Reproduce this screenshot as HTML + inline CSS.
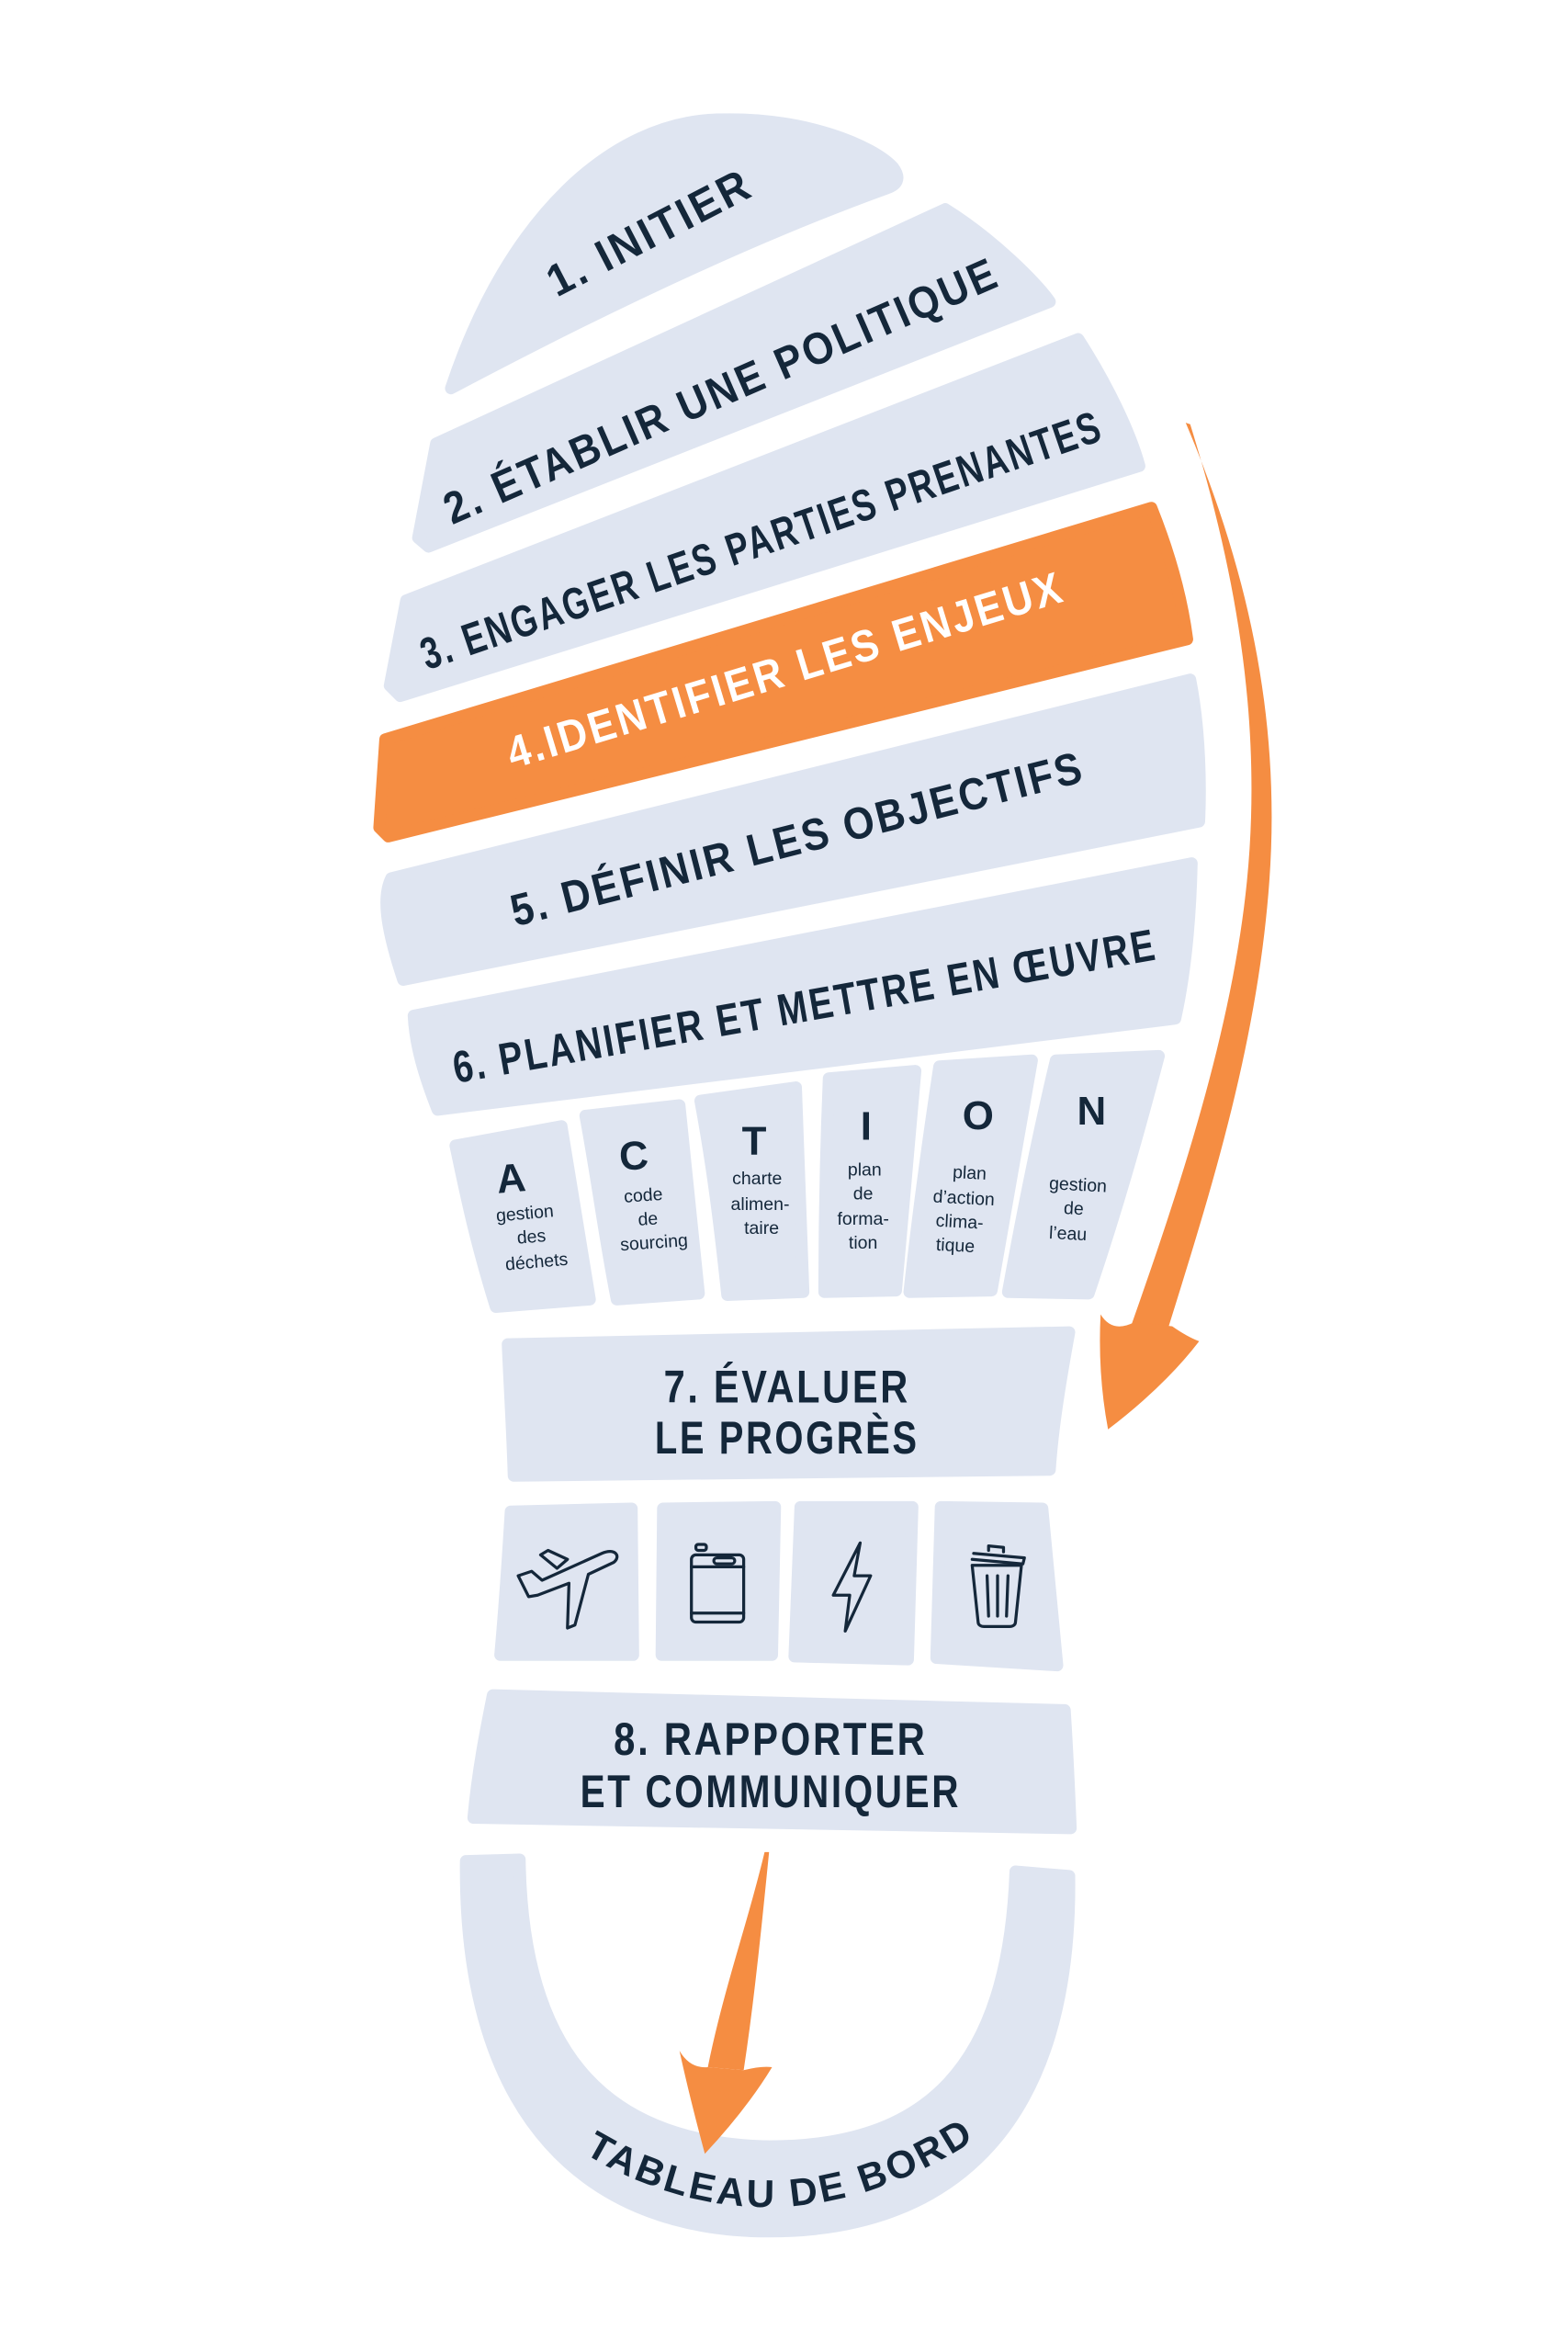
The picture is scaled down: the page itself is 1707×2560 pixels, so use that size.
<!DOCTYPE html>
<html><head><meta charset="utf-8"><style>
html,body{margin:0;padding:0;background:#fff;}
svg{display:block;}
.h{font-family:"Liberation Sans Narrow","Liberation Sans",sans-serif;font-weight:bold;fill:#14273a;letter-spacing:2px;}
.s{font-family:"Liberation Sans",sans-serif;fill:#14273a;font-size:12px;text-anchor:middle;}
.L{font-family:"Liberation Sans Narrow","Liberation Sans",sans-serif;font-weight:bold;fill:#14273a;font-size:27px;text-anchor:middle;}
.ic{fill:none;stroke:#14273a;stroke-width:2;stroke-linejoin:round;stroke-linecap:round;}
</style></head><body>
<svg width="1707" height="2560" viewBox="0 0 1050 1574.7" xmlns="http://www.w3.org/2000/svg">
<g fill="#dfe5f1" stroke="#dfe5f1" stroke-width="8" stroke-linejoin="round">
<path d="M302,260 C340,145 410,82 480,80 C540,78 585,98 598,112 C604,120 600,124 594,126 C500,160 400,208 302,260 Z"/>
<path d="M292,297 L633,140 C665,160 695,190 703,202 L287,366 L280,360 Z"/>
<path d="M272,402 L722,227 C742,258 757,290 763,312 L268,466 L261,459 Z"/>
<path d="M262,588 L797,455 C804,490 804,530 803,550 L270,656 C258,620 256,600 262,588 Z"/>
<path d="M277,680 L798,578 C797,620 793,655 787,682 L293,743 C284,720 278,700 277,680 Z"/>
<path d="M305,767 L376,754 L395,870 L332,875 C318,830 312,800 305,767 Z"/>
<path d="M392,747 L455,740 L468,866 L413,870 C405,830 400,790 392,747 Z"/>
<path d="M469,737 L533,728 L538,865 L487,867 C482,820 477,780 469,737 Z"/>
<path d="M555,722 L613,717 L600,864 L552,865 C552,820 553,770 555,722 Z"/>
<path d="M629,714 L691,710 L664,864 L609,865 C615,810 622,760 629,714 Z"/>
<path d="M707,710 L776,707 C762,760 748,810 729,866 L675,865 C685,810 695,760 707,710 Z"/>
<path d="M340,900 L716,892 C710,925 705,955 703,984 L344,988 C343,955 341,925 340,900 Z"/>
<path d="M342,1012 L423,1010 L424,1108 L335,1108 C338,1075 340,1045 342,1012 Z"/>
<path d="M444,1010 L519,1009 L517,1108 L443,1108 Z"/>
<path d="M536,1009 L611,1009 L608,1111 L532,1109 Z"/>
<path d="M630,1009 L698,1010 C702,1050 705,1085 708,1115 L627,1110 Z"/>
<path d="M330,1135 L713,1145 C715,1175 716,1200 717,1224 L317,1217 C320,1185 325,1160 330,1135 Z"/>
<path d="M312,1246 L348,1245 C350,1380 410,1435 515,1437 C620,1437 675,1385 680,1253 L716,1256 C718,1420 640,1494 515,1494 C395,1494 310,1420 312,1246 Z"/>
</g>
<path d="M258,495 L771,340 C785,375 792,405 795,428 L260,560 L254,554 Z" fill="#f58d42" stroke="#f58d42" stroke-width="8" stroke-linejoin="round"/>
<!-- orange arrows -->
<path d="M794,283 C835,380 858,480 850,590 C842,700 810,800 782,890 L758,886 C790,795 825,690 835,590 C845,490 830,390 797,284 Z" fill="#f58d42"/>
<path d="M737,880 Q745,893 760,885 L785,888 Q795,895 803,898 Q780,928 742,957 Q735,920 737,880 Z" fill="#f58d42"/>
<path d="M512,1240 L515,1240 C510,1290 505,1340 498,1386 L474,1384 C485,1330 500,1290 512,1240 Z" fill="#f58d42"/>
<path d="M455,1373 Q462,1385 474,1384 L498,1386 Q510,1383 517,1384 Q500,1412 472,1442 Q462,1405 455,1373 Z" fill="#f58d42"/>
<!-- headings -->
<text class="h" font-size="30" dominant-baseline="central" text-anchor="middle" transform="translate(435,156) rotate(-27.4)" textLength="150" lengthAdjust="spacingAndGlyphs">1. INITIER</text>
<text class="h" font-size="30" dominant-baseline="central" text-anchor="middle" transform="translate(483,262) rotate(-23.6)" textLength="402" lengthAdjust="spacingAndGlyphs">2. ÉTABLIR UNE POLITIQUE</text>
<text class="h" font-size="30" dominant-baseline="central" text-anchor="middle" transform="translate(510,362) rotate(-18.8)" textLength="480" lengthAdjust="spacingAndGlyphs">3. ENGAGER LES PARTIES PRENANTES</text>
<text class="h" font-size="30" dominant-baseline="central" text-anchor="middle" transform="translate(526,449) rotate(-16.9)" textLength="388" lengthAdjust="spacingAndGlyphs" style="fill:#fff">4.IDENTIFIER LES ENJEUX</text>
<text class="h" font-size="30" dominant-baseline="central" text-anchor="middle" transform="translate(534,562) rotate(-14.3)" textLength="395" lengthAdjust="spacingAndGlyphs">5. DÉFINIR LES OBJECTIFS</text>
<text class="h" font-size="30" dominant-baseline="central" text-anchor="middle" transform="translate(539,674) rotate(-10)" textLength="478" lengthAdjust="spacingAndGlyphs">6. PLANIFIER ET METTRE EN ŒUVRE</text>
<!-- ACTION -->
<text class="L" x="343" y="798" transform="rotate(-5 343 798)">A</text>
<text class="L" x="425" y="783" transform="rotate(-4 425 783)">C</text>
<text class="L" x="505" y="773">T</text>
<text class="L" x="580" y="763">I</text>
<text class="L" x="655" y="756">O</text>
<text class="L" x="731" y="753">N</text>
<g transform="rotate(-5 355 830)"><text class="s" x="353" y="816">gestion</text><text class="s" x="356" y="832">des</text><text class="s" x="358" y="849">déchets</text></g>
<g transform="rotate(-4 434 818)"><text class="s" x="432" y="804">code</text><text class="s" x="434" y="820">de</text><text class="s" x="437" y="836">sourcing</text></g>
<text class="s" x="507" y="793">charte</text><text class="s" x="509" y="810">alimen-</text><text class="s" x="510" y="826">taire</text>
<text class="s" x="579" y="787">plan</text><text class="s" x="578" y="803">de</text><text class="s" x="578" y="820">forma-</text><text class="s" x="578" y="836">tion</text>
<g transform="rotate(3 645 810)"><text class="s" x="648" y="789">plan</text><text class="s" x="645" y="806">d’action</text><text class="s" x="643" y="822">clima-</text><text class="s" x="641" y="838">tique</text></g>
<g transform="rotate(3 719 810)"><text class="s" x="721" y="797">gestion</text><text class="s" x="719" y="813">de</text><text class="s" x="716" y="830">l’eau</text></g>
<!-- 7 and 8 -->
<text class="h" font-size="31" text-anchor="middle" x="527" y="939" textLength="165" lengthAdjust="spacingAndGlyphs">7. ÉVALUER</text>
<text class="h" font-size="31" text-anchor="middle" x="527" y="973" textLength="177" lengthAdjust="spacingAndGlyphs">LE PROGRÈS</text>
<text class="h" font-size="31" text-anchor="middle" x="516" y="1175" textLength="210" lengthAdjust="spacingAndGlyphs">8. RAPPORTER</text>
<text class="h" font-size="31" text-anchor="middle" x="516" y="1210" textLength="255" lengthAdjust="spacingAndGlyphs">ET COMMUNIQUER</text>
<!-- icons -->
<g class="ic">
<path d="M347,1055 L356,1052 L363,1058 L403,1040 C412,1036 416,1042 411,1046 L394,1054 L385,1088 L380,1090 L381,1060 L360,1068 L354,1069 Z"/>
<path d="M362,1041 L367,1038 L380,1044 L373,1050 Z"/>
<rect x="463" y="1041" width="35" height="45" rx="3"/>
<line x1="463" y1="1049" x2="498" y2="1049"/><line x1="463" y1="1080" x2="498" y2="1080"/>
<rect x="478" y="1043" width="14" height="4" rx="2"/>
<rect x="466" y="1034" width="7" height="4" rx="1.5"/>
<path d="M576,1033 L558,1068 L569,1068 L566,1092 L583,1055 L572,1055 Z"/>
<path d="M651,1044 L684,1047 M652,1040 L686,1043 L685,1047 M662,1038 L662,1035 L672,1036 L672,1039"/>
<path d="M651,1048 L684,1048 L680,1086 C680,1088 678,1089 676,1089 L659,1089 C657,1089 655,1088 655,1086 Z"/>
<line x1="661" y1="1055" x2="662" y2="1082"/><line x1="668" y1="1055" x2="668" y2="1082"/><line x1="675" y1="1055" x2="674" y2="1082"/>
</g>
<!-- tableau de bord -->
<defs><path id="arc" d="M385,1438 Q520,1522 660,1428"/></defs>
<text class="h" font-size="26" letter-spacing="4"><textPath href="#arc" startOffset="50%" text-anchor="middle">TABLEAU DE BORD</textPath></text>
</svg>
</body></html>
